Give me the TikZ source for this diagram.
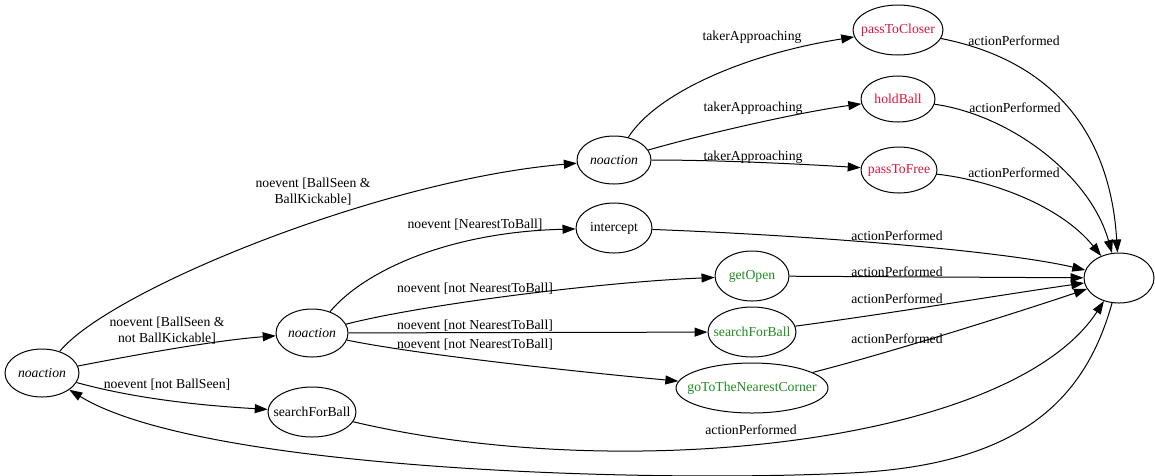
\documentclass[tikz,border=0pt]{standalone}
\usepackage{fontspec}
\setmainfont{Liberation Serif}
\usetikzlibrary{shapes.geometric,arrows.meta}
\definecolor{actred}{RGB}{220,20,60}
\definecolor{actgreen}{RGB}{34,139,34}
\newcommand{\nb}[1]{\makebox[0pt]{#1}}
\tikzset{
  st/.style={draw, ellipse, line width=1pt, inner sep=0pt, font=\fontsize{13.7}{16}\selectfont},
  ital/.style={font=\fontsize{13.7}{16}\selectfont\itshape},
  edge/.style={draw, line width=1pt, -{Triangle[length=13pt,width=9pt]}},
  lbl/.style={inner sep=0pt, align=center, font=\fontsize{13.7}{16}\selectfont},
}
\begin{document}
\begin{tikzpicture}[x=1pt,y=-1pt]
\useasboundingbox (0,0) rectangle (1155,475);
% nodes
\node[st, ital, minimum width=74pt, minimum height=48pt] (n0) at (42,373) {\nb{noaction}};
\node[st, ital, minimum width=72pt, minimum height=48pt] (n1) at (312,333) {\nb{noaction}};
\node[st, minimum width=88pt, minimum height=50pt] (sfb) at (312,412) {\nb{searchForBall}};
\node[st, ital, minimum width=74pt, minimum height=48pt] (n2) at (614,160) {\nb{noaction}};
\node[st, text=actred, minimum width=90pt, minimum height=50pt] (ptc) at (898,30) {\nb{passToCloser}};
\node[st, text=actred, minimum width=74pt, minimum height=46pt] (hb) at (898,99) {\nb{holdBall}};
\node[st, text=actred, minimum width=76pt, minimum height=46pt] (ptf) at (899,170) {\nb{passToFree}};
\node[st, minimum width=76pt, minimum height=50pt] (icp) at (614,228) {\nb{intercept}};
\node[st, text=actgreen, minimum width=74pt, minimum height=50pt] (go) at (752,276) {\nb{getOpen}};
\node[st, text=actgreen, minimum width=88pt, minimum height=50pt] (sfb2) at (752,332) {\nb{searchForBall}};
\node[st, text=actgreen, minimum width=152pt, minimum height=50pt] (gtc) at (752,388) {\nb{goToTheNearestCorner}};
\node[st, minimum width=70pt, minimum height=50pt] (fin) at (1119,278) {};
% edges
\draw[edge] (n0) .. controls (110,290) and (380,180) .. (n2);
\draw[edge] (n0) .. controls (150,352) and (220,340) .. (n1);
\draw[edge] (n0) .. controls (140,400) and (210,406) .. (sfb);
\draw[edge] (sfb) .. controls (620,485) and (1010,445) .. (fin);
\draw[edge] (fin) .. controls (1085,400) and (1020,465) .. (850,473) .. controls (646,483) and (200,470) .. (n0);
\draw[edge] (n1) .. controls (365,270) and (450,232) .. (icp);
\draw[edge] (n1) .. controls (420,305) and (600,282) .. (go);
\draw[edge] (n1) -- (sfb2);
\draw[edge] (n1) .. controls (420,355) and (580,372) .. (gtc);
\draw[edge] (n2) .. controls (655,95) and (740,55) .. (ptc);
\draw[edge] (n2) .. controls (700,135) and (800,112) .. (hb);
\draw[edge] (n2) .. controls (720,160) and (800,164) .. (ptf);
\draw[edge] (ptc) .. controls (1050,60) and (1110,130) .. (fin);
\draw[edge] (hb) .. controls (1010,115) and (1090,175) .. (fin);
\draw[edge] (ptf) .. controls (990,180) and (1060,205) .. (fin);
\draw[edge] (icp) .. controls (800,235) and (1000,250) .. (fin);
\draw[edge] (go) -- (fin);
\draw[edge] (sfb2) .. controls (900,312) and (1000,295) .. (fin);
\draw[edge] (gtc) .. controls (900,350) and (1040,305) .. (fin);
% labels
\node[lbl] (l1) at (313,192) {noevent [BallSeen \&\\BallKickable]};
\node[lbl] (l2) at (167,331) {noevent [BallSeen \&\\not BallKickable]};
\node[lbl] (l3) at (167,385) {noevent [not BallSeen]};
\node[lbl] (l4) at (751,430) {actionPerformed};
\node[lbl] (l6) at (475,225) {noevent [NearestToBall]};
\node[lbl] (l7) at (475,289) {noevent [not NearestToBall]};
\node[lbl] (l8) at (475,326) {noevent [not NearestToBall]};
\node[lbl] (l9) at (475,345) {noevent [not NearestToBall]};
\node[lbl] (l10) at (752,37) {takerApproaching};
\node[lbl] (l11) at (753,108) {takerApproaching};
\node[lbl] (l12) at (753,157) {takerApproaching};
\node[lbl] (l13) at (1014,41) {actionPerformed};
\node[lbl] (l14) at (1015,108) {actionPerformed};
\node[lbl] (l15) at (1014,173) {actionPerformed};
\node[lbl] (l16) at (897,236) {actionPerformed};
\node[lbl] (l17) at (897,272) {actionPerformed};
\node[lbl] (l18) at (897,299) {actionPerformed};
\node[lbl] (l19) at (897,339) {actionPerformed};
\end{tikzpicture}
\end{document}
